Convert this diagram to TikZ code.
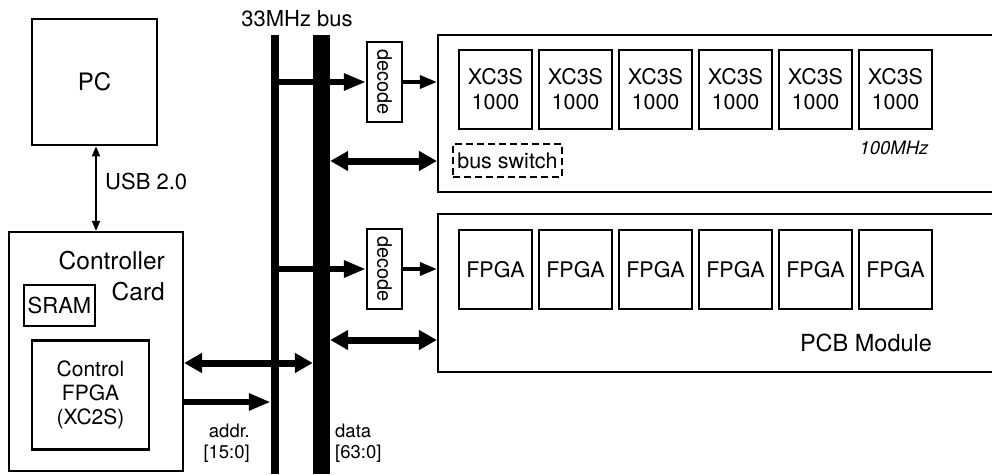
\documentclass[tikz,border=0pt]{standalone}
\usepackage{fontspec}
\setmainfont{TeX Gyre Heros}
\usetikzlibrary{arrows.meta}
\begin{document}
\begin{tikzpicture}[x=1pt,y=-1pt,
  box/.style={draw, line width=2.4pt, inner sep=0pt, align=center, font=\fontsize{21.5}{25}\selectfont},
  chip/.style={box, minimum width=73pt, minimum height=79pt},
  big/.style={draw, line width=2.2pt, inner sep=0pt},
  decbox/.style={box, line width=2.2pt, minimum width=35pt, minimum height=80pt},
  bus/.style={fill=black, inner sep=0pt, minimum height=439pt},
  lbl/.style={inner sep=0pt, font=\fontsize{22}{25}\selectfont},
  small/.style={inner sep=0pt, font=\fontsize{18.5}{20.5}\selectfont},
  fatarrow/.style={line width=6pt, -{Triangle[length=22pt,width=16pt]}},
  medarrow/.style={line width=3.5pt, -{Triangle[length=17pt,width=13pt]}},
  dblarrow/.style={line width=7pt, {Triangle[length=18pt,width=19pt]}-{Triangle[length=18pt,width=19pt]}},
  thinarrow/.style={line width=2pt, {Triangle[length=10pt,width=8pt]}-{Triangle[length=10pt,width=8pt]}}
]
\useasboundingbox (0,0) rectangle (992,474);
\clip (0,0) rectangle (992,474);
\fill[white] (0,0) rectangle (992,474);

% PC and controller
\node[box, line width=2.6pt, minimum width=125pt, minimum height=126pt, font=\fontsize{24}{26}\selectfont] (pc) at (94.5,82) {PC};
\node[big, minimum width=174pt, minimum height=239pt] (ctrl) at (96,351.5) {};
\node[inner sep=0pt, align=right, anchor=east, font=\fontsize{24.5}{31}\selectfont] (ctrltitle) at (165,276) {Controller\\Card};
\node[box, minimum width=71pt, minimum height=41pt, font=\fontsize{22}{25}\selectfont] (sram) at (59.5,305.5) {SRAM};
\node[box, minimum width=117pt, minimum height=109pt, font=\fontsize{21}{24}\selectfont] (cfpga) at (90.5,395) {Control\\FPGA\\(XC2S)};
\draw[thinarrow] (pc.south -| 96,0) -- (ctrl.north -| 96,0);
\node[lbl, anchor=west] (usb) at (105,181) {USB 2.0};

% buses
\node[lbl] (buslbl) at (297,19) {33MHz bus};
\node[small, align=right, anchor=east] (addrlbl) at (250,443) {addr.\\{[15:0]}};
\node[small, align=left, anchor=west] (datalbl) at (335,443) {data\\{[63:0]}};

% decode boxes
\node[decbox] (dec1) at (384.5,82) {};
\node[rotate=-90, inner sep=0pt, font=\fontsize{20}{22}\selectfont] (dec1t) at (dec1.center) {decode};
\node[decbox] (dec2) at (384.5,269) {};
\node[rotate=-90, inner sep=0pt, font=\fontsize{20}{22}\selectfont] (dec2t) at (dec2.center) {decode};

% big modules
\node[big, minimum width=572pt, minimum height=157pt] (mod1) at (724,113.5) {};
\node[big, minimum width=572pt, minimum height=158pt] (mod2) at (724,293) {};

\foreach \i in {0,...,5} {
  \node[chip] (x\i) at (495.5+80*\i,89.5) {XC3S\\1000};
  \node[chip] (f\i) at (495.5+80*\i,269.5) {FPGA};
}
\node[box, line width=2.2pt, minimum width=109pt, minimum height=33pt, dash pattern=on 7pt off 4pt] (bsw) at (507.5,160.5) {bus switch};
\node[inner sep=0pt, font=\fontsize{18.5}{20}\selectfont\itshape] (mhz) at (894,148) {100MHz};
\node[inner sep=0pt, font=\fontsize{23.5}{26}\selectfont] (pcb) at (866,343) {PCB Module};

% bus bars
\node[bus, minimum width=8pt] (abus) at (275,254.5) {};
% arrows from addr bus to decoders (pass behind data bus)
\draw[fatarrow] (abus.center |- dec1.west) -- (dec1.west);
\draw[fatarrow] (abus.center |- dec2.west) -- (dec2.west);
\node[bus, minimum width=17pt] (dbus) at (321.5,254.5) {};

\draw[medarrow] (dec1.east) -- (mod1.west |- dec1.east);
\draw[medarrow] (dec2.east) -- (mod2.west |- dec2.east);

\coordinate (d1) at (0,161);
\coordinate (d2) at (0,340);
\coordinate (c1) at (0,363);
\coordinate (c2) at (0,402);
\draw[dblarrow] (dbus.east |- d1) -- (mod1.west |- d1);
\draw[dblarrow] (dbus.east |- d2) -- (mod2.west |- d2);
\draw[dblarrow] (ctrl.east |- c1) -- (dbus.west |- c1);
\draw[fatarrow] (ctrl.east |- c2) -- (abus.west |- c2);
\end{tikzpicture}
\end{document}
